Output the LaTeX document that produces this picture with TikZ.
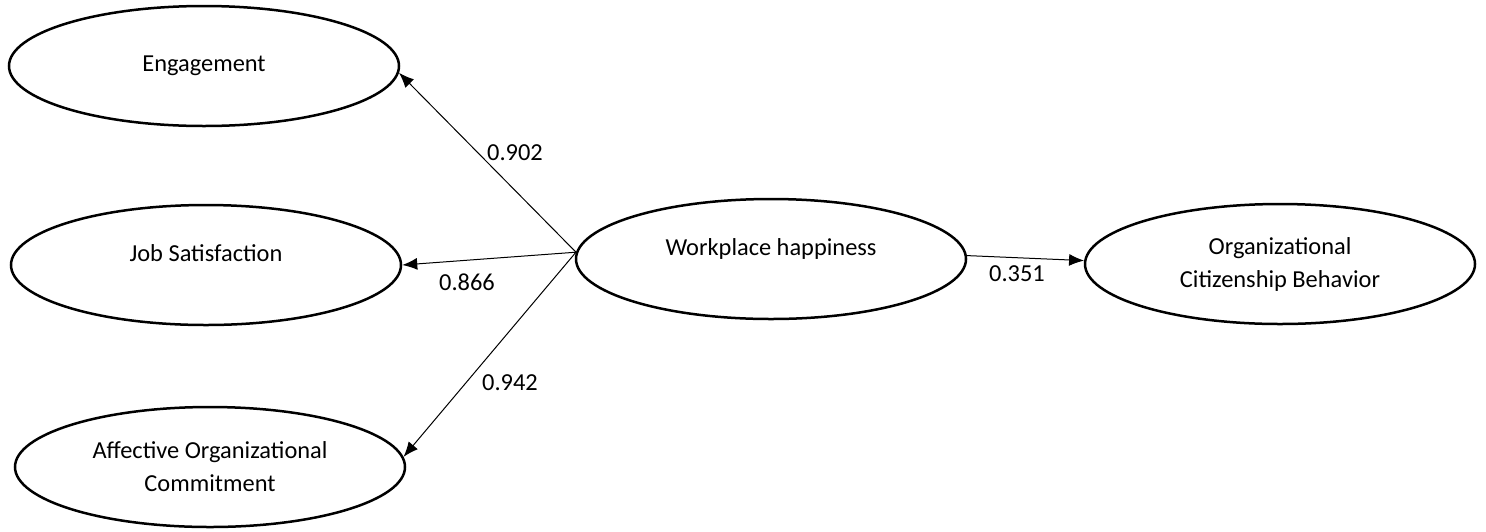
\documentclass[tikz,border=0pt]{standalone}
\usepackage{fontspec}
\setmainfont{Carlito}
\usetikzlibrary{shapes.geometric,arrows.meta}

\tikzset{
  construct/.style={draw, line width=1.25pt, ellipse, minimum width=195pt, minimum height=60pt, inner sep=0pt, align=center, font=\fontsize{12.2}{16.5}\selectfont},
  raised/.style={text height=8pt, text depth=11.5pt},
  path/.style={line width=0.5pt, -{Latex[length=7.5pt,width=6pt]}},
  coef/.style={inner sep=0.75pt, font=\fontsize{12.2}{14}\selectfont}
}

\begin{document}
\begin{tikzpicture}[x=0.5pt,y=0.5pt,yscale=-1,xscale=1]
\useasboundingbox (0,0) rectangle (1486,531);
% constructs
\node [construct] (eng) at (204,66) {Engagement};
\node [construct,raised] (jsat) at (206,265) {Job Satisfaction};
\node [construct] (aoc) at (210,467) {Affective Organizational\\Commitment};
\node [construct,raised] (wph) at (771,259) {Workplace happiness};
\node [construct] (ocb) at (1280,264) {Organizational\\Citizenship Behavior};
% paths
\draw [path] (wph.178) -- (eng.358);
\draw [path] (wph.178) -- (jsat.east);
\draw [path] (wph.178) -- (aoc.3);
\draw [path] (wph.1) -- (ocb.179);
% coefficients
\node [coef] (c902) at (515,153) {0.902};
\node [coef] (c866) at (467,282) {0.866};
\node [coef] (c942) at (510,383) {0.942};
\node [coef] (c351) at (1017,274) {0.351};
\end{tikzpicture}
\end{document}
